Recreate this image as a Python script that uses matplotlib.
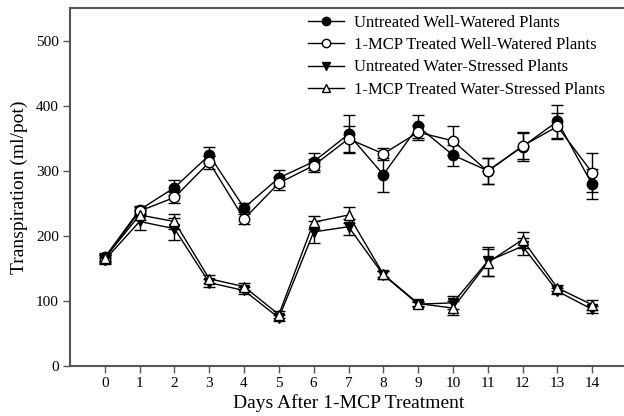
import matplotlib
matplotlib.use("Agg")
import matplotlib.pyplot as plt
from matplotlib.lines import Line2D

plt.rcParams['font.family'] = ['Liberation Serif', 'DejaVu Serif']

days = list(range(15))

ww_untreated = [167, 240, 274, 324, 243, 289, 314, 356, 294, 368, 324, 300, 337, 376, 279]
ww_untreated_se = [6, 6, 11, 12, 7, 12, 13, 29, 26, 18, 16, 20, 22, 25, 23]

ww_mcp = [165, 238, 259, 313, 226, 281, 308, 349, 326, 359, 346, 299, 338, 368, 297]
ww_mcp_se = [6, 6, 8, 10, 8, 10, 10, 20, 9, 12, 22, 20, 20, 20, 30]

ws_untreated = [163, 222, 211, 128, 116, 74, 206, 214, 140, 95, 97, 161, 184, 115, 87]
ws_untreated_se = [7, 13, 17, 6, 5, 5, 17, 12, 6, 4, 10, 22, 13, 5, 5]

ws_mcp = [166, 232, 222, 134, 122, 79, 221, 232, 141, 96, 89, 159, 194, 120, 94]
ws_mcp_se = [6, 8, 12, 6, 5, 6, 10, 13, 5, 4, 11, 20, 12, 5, 8]

labels = ["Untreated Well-Watered Plants",
          "1-MCP Treated Well-Watered Plants",
          "Untreated Water-Stressed Plants",
          "1-MCP Treated Water-Stressed Plants"]

fig = plt.figure(figsize=(6.24, 4.16), dpi=100)
ax = fig.add_axes([70/624, 50/416, 557/624, 358/416])

series = [
    (ww_untreated, ww_untreated_se, 'o', 'black'),
    (ww_mcp, ww_mcp_se, 'o', 'white'),
    (ws_untreated, ws_untreated_se, 'v', 'black'),
    (ws_mcp, ws_mcp_se, '^', 'white'),
]

handles = []
for (vals, se, mk, fc), lab in zip(series, labels):
    ax.errorbar(days, vals, yerr=se, color='black', lw=1.0,
                marker=mk, markersize=7.5, markerfacecolor=fc,
                markeredgecolor='black', markeredgewidth=1.0,
                ecolor='black', elinewidth=1.0, capsize=4.5, capthick=1.0,
                zorder=3)
    handles.append(Line2D([], [], color='black', lw=1.0, marker=mk,
                          markersize=6, markerfacecolor=fc,
                          markeredgecolor='black', markeredgewidth=1.0))

ax.set_xlim(-1, 15)
ax.set_ylim(0, 550)
ax.set_xticks(days)
ax.set_yticks([0, 100, 200, 300, 400, 500])

spine_col = '#555555'
for s in ['left', 'bottom', 'top']:
    ax.spines[s].set_color(spine_col)
    ax.spines[s].set_linewidth(1.5)
ax.spines['right'].set_visible(False)
ax.tick_params(direction='out', length=5, width=1, color=spine_col,
               labelsize=11, pad=3)

ax.set_xlabel("Days After 1-MCP Treatment", fontsize=14, labelpad=3)
ax.set_ylabel("Transpiration (ml/pot)", fontsize=14, labelpad=6)

ax.legend(handles, labels, loc='upper left', bbox_to_anchor=(0.415, 1.0),
          frameon=False, fontsize=12, handlelength=2.2, handletextpad=0.6,
          labelspacing=0.38, borderaxespad=0)

fig.savefig("out.png", dpi=100)
